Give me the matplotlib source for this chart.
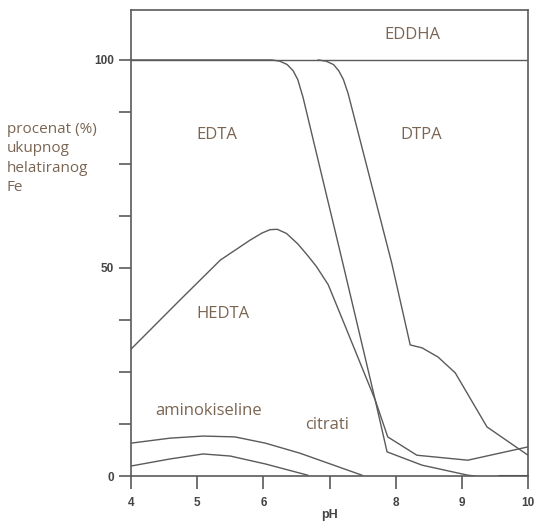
import matplotlib.pyplot as plt

# pH values and % of chelated Fe
eddha_ph = [4.0, 10.0]
eddha_pct = [100, 100]

edta_ph = [4.0, 6.13, 6.25, 6.36, 6.45, 6.52, 6.60, 7.19, 7.69, 7.87, 8.40, 9.09, 9.2]
edta_pct = [100, 100, 99.7, 98.9, 97.4, 95.3, 91.0, 51.9, 18.3, 5.8, 2.6, 0.2, 0]

dtpa_ph = [6.83, 6.95, 7.06, 7.14, 7.21, 7.28, 7.94, 8.22, 8.40, 8.64, 8.90, 9.38, 10.0]
dtpa_pct = [100, 99.7, 98.9, 97.4, 95.3, 92.0, 51.2, 31.5, 30.8, 28.6, 24.8, 11.8, 5.0]

hedta_ph = [4.0, 4.74, 5.35, 5.80, 5.98, 6.10, 6.21, 6.35, 6.52, 6.67, 6.80, 6.98,
            7.23, 7.69, 7.88, 8.32, 9.09, 10.0]
hedta_pct = [30.5, 42.3, 51.9, 56.7, 58.4, 59.2, 59.3, 58.3, 55.8, 53.0, 50.4, 46.0,
             36.3, 18.3, 9.4, 5.0, 3.8, 7.0]

amino_ph = [4.0, 4.59, 5.09, 5.57, 6.03, 6.55, 7.49]
amino_pct = [7.9, 9.1, 9.6, 9.4, 7.9, 5.5, 0.2]

citrat_ph = [4.0, 4.59, 5.09, 5.50, 6.03, 6.67]
citrat_pct = [2.4, 4.1, 5.3, 4.8, 2.9, 0.2]

tail_ph = [9.55, 10.0]
tail_pct = [0, 0]

labels = ["EDDHA", "EDTA", "DTPA", "HEDTA", "aminokiseline", "citrati"]
label_x = [8.25, 5.3, 8.38, 5.39, 5.17, 6.96]
label_y = [106, 82, 82, 39, 15.6, 12.3]

line_c = "#5a5a5a"
text_c = "#7a6552"
tick_c = "#444444"

fig = plt.figure(figsize=(5.35, 5.22), dpi=100)
ax = fig.add_axes([0.2449, 0.0881, 0.742, 0.8927])

for xs, ys in [(eddha_ph, eddha_pct), (edta_ph, edta_pct), (dtpa_ph, dtpa_pct),
               (hedta_ph, hedta_pct), (amino_ph, amino_pct), (citrat_ph, citrat_pct)]:
    ax.plot(xs, ys, color=line_c, lw=1.0)
ax.plot(tail_ph, tail_pct, color="#333333", lw=2.2, solid_capstyle="butt")

for t, x, y in zip(labels, label_x, label_y):
    ax.text(x, y, t, color=text_c, fontsize=12, family="Open Sans",
            ha="center", va="center")

ax.set_xlim(4, 10)
ax.set_ylim(0, 112)
ax.set_xticks([4, 5, 6, 7, 8, 9, 10])
ax.set_xticklabels(["4", "5", "6", "", "8", "9", "10"])
ax.set_yticks([0, 12.5, 25, 37.5, 50, 62.5, 75, 87.5, 100])
ax.set_yticklabels(["0", "", "", "", "50", "", "", "", "100"])
ax.tick_params(direction="out", length=9, width=1.2, color=line_c,
               labelsize=8.5, labelcolor=tick_c)
ax.tick_params(axis="x", pad=6)
ax.tick_params(axis="y", pad=3)
for lbl in ax.get_xticklabels() + ax.get_yticklabels():
    lbl.set_fontweight("bold")
    lbl.set_family("Liberation Sans")
for s in ax.spines.values():
    s.set_color(line_c)
    s.set_linewidth(1.2)

ax.set_xlabel("pH", fontsize=9, color=tick_c, fontweight="bold",
              family="Liberation Sans", labelpad=0)

fig.text(7 / 535, 1 - 122 / 522, "procenat (%)\nukupnog\nhelatiranog\nFe",
         color=text_c, fontsize=11, family="Open Sans", ha="left", va="top",
         linespacing=1.4)

fig.savefig("out.png", dpi=100)
